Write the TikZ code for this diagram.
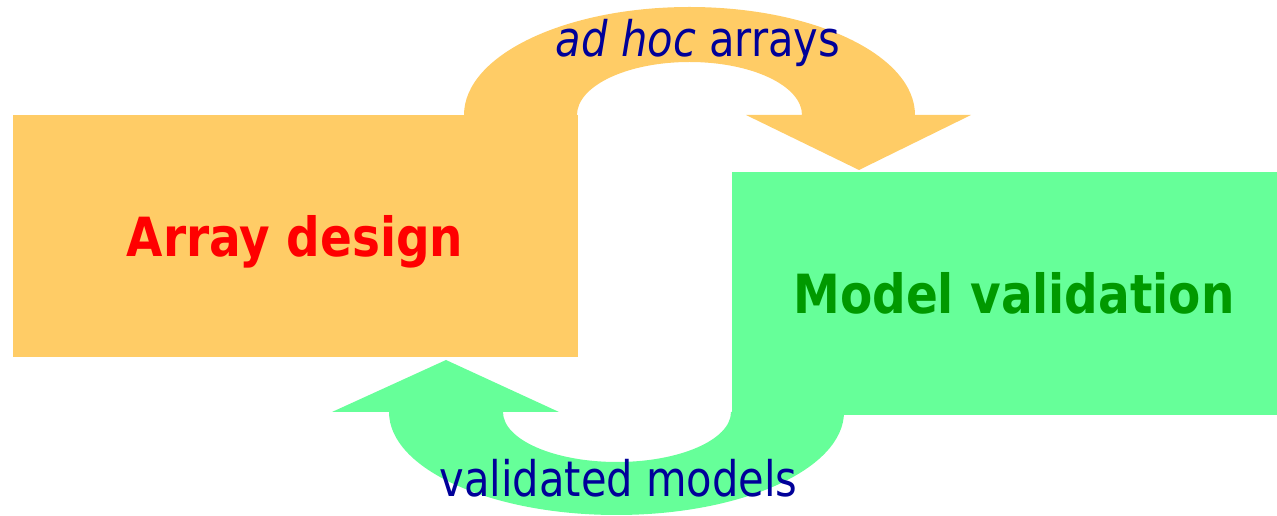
\documentclass[tikz,border=0pt]{standalone}
\usepackage{fontspec}
\setmainfont{DejaVu Sans}
\newfontfamily\titlefont[FakeStretch=0.87]{DejaVu Sans}
\newfontfamily\flowfont[FakeStretch=0.85]{DejaVu Sans}
\usetikzlibrary{positioning}
\definecolor{arrorange}{HTML}{FFCC66}
\definecolor{valgreen}{HTML}{66FF99}
\definecolor{flowblue}{HTML}{000099}
\definecolor{titlered}{HTML}{FF0000}
\definecolor{titlegreen}{HTML}{009900}

\begin{document}
\begin{tikzpicture}[x=1pt, y=1pt,
    box/.style={rectangle, inner sep=0pt, anchor=south west},
    title/.style={font=\titlefont\bfseries\fontsize{54}{60}\selectfont, anchor=base, inner sep=0pt},
    flow/.style={font=\flowfont\fontsize{49}{55}\selectfont, text=flowblue, anchor=base, inner sep=0pt},
]
    \useasboundingbox (0,0) rectangle (1277,516);
    \clip (0,0) rectangle (1277,516);

    % the two stages
    \node[box, fill=arrorange, minimum width=565pt, minimum height=242pt] (design) at (13,159) {};
    \node[box, fill=valgreen, minimum width=564pt, minimum height=243pt] (validation) at (732,101) {};

    % design -> validation
    \fill[arrorange] (464,401) arc[start angle=180, end angle=0, x radius=225.5, y radius=108]
        -- (971,401) -- (859,346) -- (746,401) -- (802,401)
        arc[start angle=0, end angle=180, x radius=112.5, y radius=53] -- cycle;

    % validation -> design
    \fill[valgreen] (389,104) arc[start angle=180, end angle=360, x radius=227.5, y radius=103]
        -- (731,104)
        arc[start angle=360, end angle=180, x radius=114, y radius=50]
        -- (559,104) -- (446,156) -- (332,104) -- cycle;

    % labels
    \node[title, text=titlered] (designlabel) at (295,259) {Array design};
    \node[title, text=titlegreen] (validationlabel) at (1014,202) {Model validation};
    \node[flow] (adhoc) at (698,459) {\textit{ad hoc} arrays};
    \node[flow] (validated) at (618.5,19) {validated models};
\end{tikzpicture}
\end{document}
